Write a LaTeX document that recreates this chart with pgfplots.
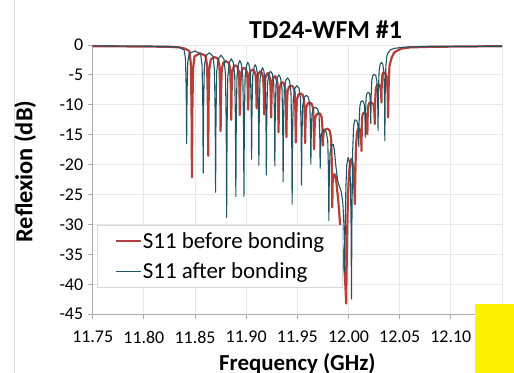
\documentclass[border=0pt]{standalone}
\usepackage{pgfplots}
\pgfplotsset{compat=1.18}
\usepackage{fontspec}
\setmainfont{Carlito}
\definecolor{sred}{RGB}{180,64,60}
\definecolor{steal}{RGB}{30,84,100}
\definecolor{gridgray}{RGB}{232,232,232}
\definecolor{axgray}{RGB}{170,170,170}
\definecolor{leggray}{RGB}{215,215,215}

\begin{document}
\begin{tikzpicture}
\path[use as bounding box] (-92.7bp,-58.7bp) rectangle (421.3bp,314.3bp);
\draw[leggray, line width=1bp] (-77.7bp,-58.7bp) -- (-77.7bp,314.3bp);
\begin{axis}[
  at={(0,0)}, anchor=south west,
  scale only axis, width=409.3bp, height=269.3bp,
  xmin=11.75, xmax=12.15, ymin=-45, ymax=0,
  xtick={11.75,11.80,11.85,11.90,11.95,12.00,12.05,12.10,12.15},
  xticklabels={11.75,11.80,11.85,11.90,11.95,12.00,12.05,12.10,12.15},
  ytick={-45,-40,-35,-30,-25,-20,-15,-10,-5,0},
  yticklabels={-45,-40,-35,-30,-25,-20,-15,-10,-5,0},
  axis x line*=bottom, axis y line*=left,
  axis line style={axgray, line width=1.3bp, -},
  grid=major, major grid style={gridgray, line width=1bp},
  tick align=outside, major tick length=5bp,
  tick style={axgray, line width=1bp},
  tick label style={font=\fontsize{18}{20}\selectfont},
  xticklabel style={yshift=-8bp},
  yticklabel style={xshift=-1bp},
  xlabel={\textbf{Frequency (GHz)}},
  ylabel={\textbf{Reflexion (dB)}},
  every axis x label/.style={at={(0.5,-0.207)}, anchor=base, inner sep=0pt, font=\fontsize{23}{26}\selectfont},
  every axis y label/.style={at={(-0.165,0.53)}, anchor=center, rotate=90, font=\fontsize{24.5}{26}\selectfont},
  title={\textbf{TD24-WFM \#1}},
  every axis title/.style={at={(0.569,1.0249)}, anchor=base, font=\fontsize{26}{28}\selectfont},
  legend style={at={(0.011,0.332)}, anchor=north west, draw=leggray, line width=1bp,
    fill=white, font=\fontsize{23}{25}\selectfont, inner xsep=17bp, inner ysep=6bp,
    row sep=11bp, nodes={inner sep=1bp}, cells={anchor=west}},
  legend image code/.code={\draw[#1] (0bp,0bp) -- (25bp,0bp);},
  every axis plot/.append style={line join=round},
]
% S11 before bonding
\addplot[sred, line width=2.2bp] coordinates {
(11.75,-0.2) (11.80,-0.25) (11.825,-0.3) (11.835,-0.4) (11.8400,-0.6)
(11.8445,-1.0) (11.8459,-3.1) (11.8466,-10.2) (11.8470,-22.1) (11.8474,-10.7) (11.8481,-3.9) (11.8495,-1.9)
(11.8550,-1.4)
(11.8604,-1.8) (11.8618,-3.5) (11.8625,-9.1) (11.8629,-18.5) (11.8633,-9.4) (11.8640,-4.0) (11.8654,-2.4)
(11.8690,-2.0)
(11.8725,-2.3) (11.8739,-3.5) (11.8746,-7.6) (11.8750,-14.4) (11.8754,-8.0) (11.8761,-4.1) (11.8775,-3.0)
(11.8802,-2.7)
(11.8829,-3.0) (11.8843,-3.9) (11.8850,-7.1) (11.8854,-12.5) (11.8858,-7.5) (11.8865,-4.5) (11.8879,-3.6)
(11.8896,-3.4)
(11.8913,-3.6) (11.8927,-4.4) (11.8934,-7.1) (11.8938,-11.7) (11.8942,-7.4) (11.8949,-4.8) (11.8963,-4.0)
(11.8979,-3.8)
(11.8995,-4.0) (11.9009,-4.6) (11.9016,-7.0) (11.9020,-10.8) (11.9024,-7.1) (11.9031,-4.9) (11.9045,-4.3)
(11.9061,-4.1)
(11.9077,-4.3) (11.9091,-4.9) (11.9098,-7.0) (11.9102,-10.6) (11.9106,-7.2) (11.9113,-5.1) (11.9127,-4.6)
(11.9139,-4.4)
(11.9151,-4.6) (11.9165,-5.3) (11.9172,-7.6) (11.9176,-11.6) (11.9180,-7.8) (11.9187,-5.5) (11.9201,-4.9)
(11.9210,-4.7)
(11.9219,-4.9) (11.9233,-5.6) (11.9240,-8.0) (11.9244,-12.1) (11.9248,-8.3) (11.9255,-6.0) (11.9269,-5.4)
(11.9280,-5.2)
(11.9291,-5.4) (11.9305,-6.3) (11.9312,-9.4) (11.9316,-14.6) (11.9320,-10.0) (11.9327,-7.2) (11.9341,-6.4)
(11.9354,-6.2)
(11.9368,-6.4) (11.9382,-7.3) (11.9389,-10.3) (11.9393,-15.4) (11.9397,-10.7) (11.9404,-7.8) (11.9418,-7.0)
(11.9439,-6.8)
(11.9460,-7.0) (11.9474,-7.9) (11.9481,-11.1) (11.9485,-16.3) (11.9489,-11.8) (11.9496,-9.1) (11.9510,-8.3)
(11.9530,-8.1)
(11.9551,-8.3) (11.9565,-9.1) (11.9572,-11.8) (11.9576,-16.4) (11.9580,-12.7) (11.9587,-10.4) (11.9601,-9.8)
(11.9620,-9.6)
(11.9639,-9.8) (11.9653,-10.5) (11.9660,-13.1) (11.9664,-17.4) (11.9668,-14.1) (11.9675,-12.1) (11.9689,-11.6)
(11.9706,-11.4)
(11.9724,-11.5) (11.9738,-12.1) (11.9745,-13.8) (11.9749,-16.8) (11.9753,-15.3) (11.9760,-14.3) (11.9774,-14.1)
(11.9795,-14.0)
(11.9816,-14.3) (11.9830,-15.6) (11.9837,-19.9) (11.9841,-27.1) (11.9845,-23.0) (11.9852,-22.0) (11.9862,-21.6)
(11.9873,-21.8) (11.9885,-23.5) (11.9900,-26.0) (11.9915,-29.3) (11.9930,-32.0) (11.9947,-34.9) (11.9962,-38.0)
(11.9972,-41.0) (11.9977,-43.2) (11.9985,-33.0) (11.9995,-25.0) (12.0005,-21.5) (12.0018,-19.5) (12.0029,-19.0)
(12.0040,-19.8) (12.0050,-21.5) (12.0057,-24.0) (12.0062,-26.6) (12.0066,-22.0) (12.0073,-17.0) (12.0083,-14.6)
(12.0094,-14.0)
(12.0107,-14.1) (12.0117,-14.4) (12.0124,-15.7) (12.0127,-17.7) (12.0129,-14.2) (12.0133,-12.1) (12.0140,-11.5)
(12.0149,-11.3)
(12.0163,-11.4) (12.0174,-11.7) (12.0180,-12.9) (12.0184,-14.9) (12.0187,-12.0) (12.0193,-10.2) (12.0203,-9.7)
(12.0215,-9.6)
(12.0232,-9.7) (12.0245,-10.0) (12.0253,-11.2) (12.0257,-13.2) (12.0260,-9.6) (12.0267,-7.4) (12.0276,-6.8)
(12.0289,-6.6)
(12.0302,-6.7) (12.0312,-7.0) (12.0319,-8.0) (12.0322,-9.6) (12.0324,-6.9) (12.0329,-5.2) (12.0336,-4.7)
(12.0345,-4.6)
(12.0362,-4.8) (12.0375,-5.5) (12.0383,-8.0) (12.0387,-12.1) (12.0392,-7.0) (12.0400,-3.5) (12.0420,-2.2)
(12.0445,-1.3) (12.0469,-1.0) (12.0520,-0.6) (12.0600,-0.4) (12.0800,-0.3) (12.1500,-0.2)
};
\addlegendentry{S11 before bonding}
% S11 after bonding
\addplot[steal, line width=1.1bp] coordinates {
(11.75,-0.15) (11.80,-0.2) (11.82,-0.25) (11.830,-0.35) (11.835,-0.45)
(11.8393,-0.8) (11.8407,-2.3) (11.8414,-7.6) (11.8418,-16.5) (11.8422,-8.0) (11.8429,-2.9) (11.8443,-1.4)
(11.8500,-1.0)
(11.8555,-1.5) (11.8569,-3.4) (11.8576,-10.2) (11.8580,-21.4) (11.8584,-10.4) (11.8591,-3.7) (11.8605,-1.8)
(11.8640,-1.3)
(11.8676,-1.9) (11.8690,-4.1) (11.8697,-11.8) (11.8701,-24.6) (11.8705,-12.0) (11.8712,-4.5) (11.8726,-2.3)
(11.8755,-1.7)
(11.8784,-2.4) (11.8798,-5.0) (11.8805,-13.9) (11.8809,-28.8) (11.8813,-14.2) (11.8820,-5.5) (11.8834,-3.0)
(11.8854,-2.3)
(11.8874,-2.9) (11.8888,-5.1) (11.8895,-12.7) (11.8899,-25.3) (11.8903,-12.8) (11.8910,-5.3) (11.8924,-3.2)
(11.8938,-2.6)
(11.8953,-3.2) (11.8967,-5.3) (11.8974,-12.8) (11.8978,-25.3) (11.8982,-13.0) (11.8989,-5.6) (11.9003,-3.5)
(11.9015,-2.9)
(11.9028,-3.3) (11.9042,-4.8) (11.9049,-10.2) (11.9053,-19.1) (11.9057,-10.4) (11.9064,-5.2) (11.9078,-3.7)
(11.9088,-3.3)
(11.9099,-3.7) (11.9113,-5.3) (11.9120,-10.9) (11.9124,-20.1) (11.9128,-11.1) (11.9135,-5.8) (11.9149,-4.2)
(11.9160,-3.8)
(11.9172,-4.3) (11.9186,-6.0) (11.9193,-11.9) (11.9197,-21.7) (11.9201,-12.2) (11.9208,-6.5) (11.9222,-4.8)
(11.9238,-4.4)
(11.9255,-4.8) (11.9269,-6.3) (11.9276,-11.5) (11.9280,-20.2) (11.9284,-11.8) (11.9291,-6.8) (11.9305,-5.4)
(11.9320,-5.0)
(11.9336,-5.5) (11.9350,-7.2) (11.9357,-13.1) (11.9361,-22.9) (11.9365,-13.3) (11.9372,-7.6) (11.9386,-5.9)
(11.9405,-5.5)
(11.9424,-6.0) (11.9438,-8.0) (11.9445,-15.0) (11.9449,-26.6) (11.9453,-15.7) (11.9460,-9.2) (11.9474,-7.3)
(11.9495,-6.8)
(11.9516,-7.2) (11.9530,-8.8) (11.9537,-14.3) (11.9541,-23.4) (11.9545,-15.2) (11.9552,-10.2) (11.9566,-8.8)
(11.9586,-8.4)
(11.9607,-8.7) (11.9621,-9.8) (11.9628,-13.6) (11.9632,-19.9) (11.9636,-14.7) (11.9643,-11.5) (11.9657,-10.6)
(11.9677,-10.4)
(11.9698,-10.7) (11.9712,-11.6) (11.9719,-15.0) (11.9723,-20.6) (11.9727,-17.1) (11.9734,-15.0) (11.9748,-14.4)
(11.9765,-14.2)
(11.9783,-14.6) (11.9797,-16.0) (11.9804,-21.0) (11.9808,-29.3) (11.9812,-22.3) (11.9819,-18.1) (11.9833,-16.9)
(11.9850,-16.6) (11.9862,-17.5) (11.9875,-20.0) (11.9895,-22.8) (11.9915,-23.8) (11.9930,-24.6) (11.9945,-26.5)
(11.9955,-30.0) (11.9961,-34.0) (11.9964,-38.2) (11.9968,-31.0) (11.9974,-24.0) (11.9983,-20.0) (11.9997,-18.8)
(12.0010,-19.6) (12.0019,-23.0) (12.0025,-30.0) (12.0029,-42.4) (12.0033,-30.0) (12.0040,-18.0) (12.0050,-13.5)
(12.0062,-12.5)
(12.0078,-12.6) (12.0089,-13.0) (12.0097,-14.5) (12.0101,-17.0) (12.0104,-12.8) (12.0111,-10.2) (12.0121,-9.5)
(12.0134,-9.3)
(12.0146,-9.5) (12.0155,-10.0) (12.0161,-12.1) (12.0164,-15.4) (12.0167,-11.3) (12.0172,-8.8) (12.0180,-8.1)
(12.0191,-7.9)
(12.0202,-8.0) (12.0210,-8.5) (12.0215,-10.3) (12.0218,-13.2) (12.0221,-8.6) (12.0228,-5.9) (12.0237,-5.1)
(12.0250,-4.9)
(12.0266,-5.1) (12.0277,-6.0) (12.0285,-9.1) (12.0289,-14.3) (12.0292,-8.0) (12.0299,-4.3) (12.0309,-3.2)
(12.0322,-2.9)
(12.0335,-3.2) (12.0345,-4.5) (12.0352,-8.8) (12.0355,-16.0) (12.0358,-8.5) (12.0365,-3.5) (12.0375,-1.8)
(12.0387,-1.3) (12.0410,-0.8) (12.0450,-0.55) (12.0550,-0.35) (12.0800,-0.25) (12.1500,-0.2)
};
\addlegendentry{S11 after bonding}
\end{axis}
\fill[yellow] (382.3bp,-58.7bp) rectangle (421.3bp,10.3bp);
\end{tikzpicture}
\end{document}
